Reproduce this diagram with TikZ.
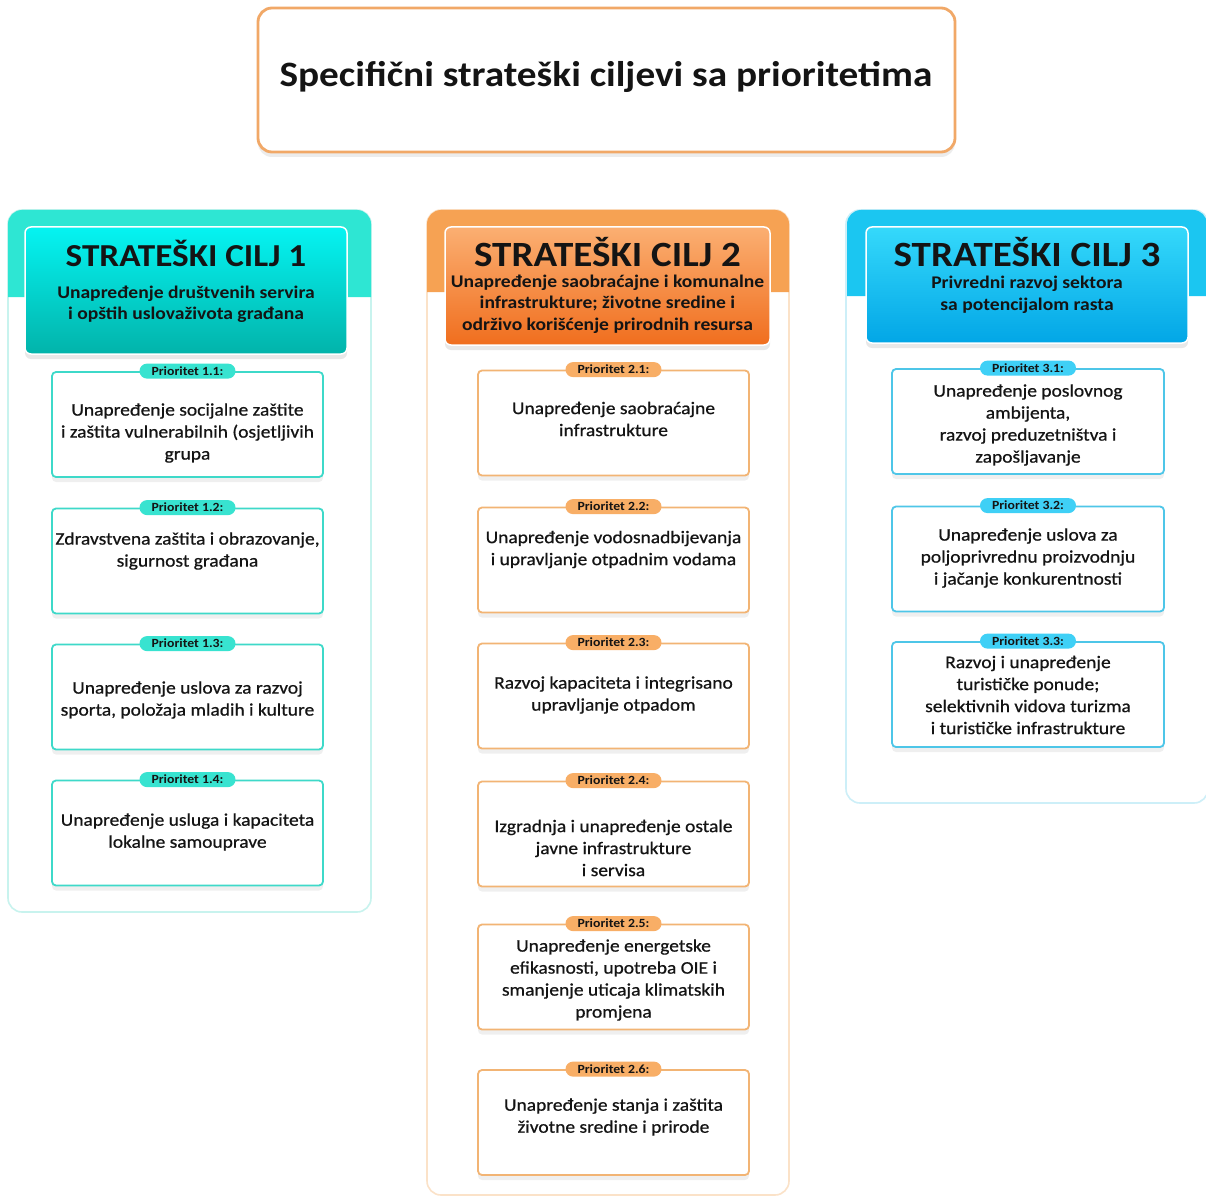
\documentclass[tikz,border=0pt]{standalone}
\usepackage{fontspec}
\setmainfont{Carlito}[FakeStretch=1.1]
\newfontfamily\bodyfont{Carlito}[FakeStretch=1.1, FakeBold=0.7]
\usetikzlibrary{shadows}
\definecolor{tealband}{HTML}{2EE6D3}
\definecolor{tealtop}{HTML}{05F4F2}
\definecolor{tealbot}{HTML}{02B3AA}
\definecolor{tealline}{HTML}{3ED9C9}
\definecolor{tealpill}{HTML}{38E3D0}
\definecolor{tealpanel}{HTML}{C8F3EE}
\definecolor{orband}{HTML}{F6A253}
\definecolor{ortop}{HTML}{FBAF72}
\definecolor{orbot}{HTML}{F06E1E}
\definecolor{orline}{HTML}{F2B474}
\definecolor{orpill}{HTML}{F8AE66}
\definecolor{orpanel}{HTML}{FBE2C8}
\definecolor{blband}{HTML}{1BC6F1}
\definecolor{bltop}{HTML}{35D9FB}
\definecolor{blbot}{HTML}{02A6E6}
\definecolor{blline}{HTML}{4EC6E8}
\definecolor{blpill}{HTML}{3FD0F6}
\definecolor{blpanel}{HTML}{CDEFF8}
\definecolor{titleline}{HTML}{F1A867}
\definecolor{ink}{HTML}{141414}
\tikzset{
  panelbox/.style={draw=#1, line width=1.6pt, fill=white, rounded corners=14pt, inner sep=0pt},
  headbox/.style args={#1/#2}{top color=#1, bottom color=#2, draw=white, line width=1.5pt, rounded corners=6pt, inner sep=0pt,
     drop shadow={shadow xshift=0pt, shadow yshift=-5pt, opacity=0.18, fill=gray}},
  prbox/.style={draw=#1, line width=1.8pt, fill=white, rounded corners=4pt, minimum width=271pt, minimum height=105pt, inner sep=0pt,
     drop shadow={shadow xshift=0pt, shadow yshift=-5pt, opacity=0.12, fill=gray}},
  pill/.style={fill=#1, rounded corners=7.5pt, minimum width=96pt, minimum height=15pt, inner sep=0pt, font=\bfseries\fontsize{12.5}{13}\selectfont, text=ink},
  prtext/.style={align=center, font=\bodyfont\fontsize{17.7}{22}\selectfont, text=ink, inner sep=0pt},
  headtitle/.style={font=\bfseries\fontsize{35.5}{36}\selectfont, text=ink, inner sep=0pt},
  headsub/.style={align=center, font=\bfseries\fontsize{17.8}{21.5}\selectfont, text=ink, inner sep=0pt},
}
\begin{document}
\begin{tikzpicture}[x=1pt, y=-1pt]
\useasboundingbox[fill=white] (0,0) rectangle (1206,1198);

% title
\node[draw=titleline, line width=2.8pt, fill=white, rounded corners=14pt, minimum width=697pt, minimum height=144pt,
  drop shadow={shadow xshift=0pt, shadow yshift=-5pt, opacity=0.15, fill=gray}] (title) at (606.5,80) {};
\node[font=\bfseries\fontsize{35.7}{36}\selectfont, text=ink, inner sep=0pt] (titletext) at (606,77) {Specifični strateški ciljevi sa prioritetima};

% ---------- panels ----------
\node[panelbox=tealpanel, minimum width=363pt, minimum height=702pt] (p1) at (189.5,561) {};
\fill[tealband] (8,297) {[rounded corners=14pt] -- (8,210) -- (371,210)} -- (371,297) -- cycle;
\node[panelbox=orpanel, minimum width=362pt, minimum height=985pt] (p2) at (608,702.5) {};
\fill[orband] (427,292) {[rounded corners=14pt] -- (427,210) -- (789,210)} -- (789,292) -- cycle;
\node[panelbox=blpanel, minimum width=362pt, minimum height=593pt] (p3) at (1027,506.5) {};
\fill[blband] (847,296) {[rounded corners=14pt] -- (847,210) -- (1207,210)} -- (1207,296) -- cycle;

% ---------- headers ----------
\node[headbox=tealtop/tealbot, minimum width=322pt, minimum height=127pt] (h1) at (186,290.5) {};
\node[headtitle, font=\bfseries\fontsize{32}{32}\selectfont] (h1t) at (186,253) {STRATEŠKI CILJ 1};
\node[headsub] (h1s) at (186,304.5) {Unapređenje društvenih servira\\i opštih uslovaživota građana};

\node[headbox=ortop/orbot, minimum width=325pt, minimum height=118pt] (h2) at (607.5,286) {};
\node[headtitle] (h2t) at (607.5,252) {STRATEŠKI CILJ 2};
\node[headsub] (h2s) at (607.5,304) {Unapređenje saobraćajne i komunalne\\infrastrukture; životne sredine i\\održivo korišćenje prirodnih resursa};

\node[headbox=bltop/blbot, minimum width=322pt, minimum height=116pt] (h3) at (1027,285) {};
\node[headtitle] (h3t) at (1027,252) {STRATEŠKI CILJ 3};
\node[headsub] (h3s) at (1027,295) {Privredni razvoj sektora\\sa potencijalom rasta};

% ---------- column 1 ----------
\node[prbox=tealline] (b11) at (187.5,424.5) {};
\node[pill=tealpill] (l11) at (b11.north) {Prioritet 1.1:};
\node[prtext] (t11) at (187.5,433) {Unapređenje socijalne zaštite\\i zaštita vulnerabilnih (osjetljivih\\grupa};

\node[prbox=tealline] (b12) at (187.5,561) {};
\node[pill=tealpill] (l12) at (b12.north) {Prioritet 1.2:};
\node[prtext] (t12) at (187.5,551) {Zdravstvena zaštita i obrazovanje,\\sigurnost građana};

\node[prbox=tealline] (b13) at (187.5,697) {};
\node[pill=tealpill] (l13) at (b13.north) {Prioritet 1.3:};
\node[prtext] (t13) at (187.5,700) {Unapređenje uslova za razvoj\\sporta, položaja mladih i kulture};

\node[prbox=tealline] (b14) at (187.5,833) {};
\node[pill=tealpill] (l14) at (b14.north) {Prioritet 1.4:};
\node[prtext] (t14) at (187.5,832) {Unapređenje usluga i kapaciteta\\lokalne samouprave};

% ---------- column 2 ----------
\node[prbox=orline] (b21) at (613.5,423) {};
\node[pill=orpill] (l21) at (b21.north) {Prioritet 2.1:};
\node[prtext] (t21) at (613.5,419) {Unapređenje saobraćajne\\infrastrukture};

\node[prbox=orline] (b22) at (613.5,560) {};
\node[pill=orpill] (l22) at (b22.north) {Prioritet 2.2:};
\node[prtext] (t22) at (613.5,549.5) {Unapređenje vodosnadbijevanja\\i upravljanje otpadnim vodama};

\node[prbox=orline] (b23) at (613.5,696) {};
\node[pill=orpill] (l23) at (b23.north) {Prioritet 2.3:};
\node[prtext] (t23) at (613.5,695) {Razvoj kapaciteta i integrisano\\upravljanje otpadom};

\node[prbox=orline] (b24) at (613.5,834) {};
\node[pill=orpill] (l24) at (b24.north) {Prioritet 2.4:};
\node[prtext] (t24) at (613.5,848) {Izgradnja i unapređenje ostale\\javne infrastrukture\\i servisa};

\node[prbox=orline] (b25) at (613.5,977) {};
\node[pill=orpill] (l25) at (b25.north) {Prioritet 2.5:};
\node[prtext] (t25) at (613.5,980) {Unapređenje energetske\\efikasnosti, upotreba OIE i\\smanjenje uticaja klimatskih\\promjena};

\node[prbox=orline] (b26) at (613.5,1122.5) {};
\node[pill=orpill] (l26) at (b26.north) {Prioritet 2.6:};
\node[prtext] (t26) at (613.5,1117) {Unapređenje stanja i zaštita\\životne sredine i prirode};

% ---------- column 3 ----------
\node[prbox=blline, minimum width=272pt] (b31) at (1028,421.5) {};
\node[pill=blpill] (l31) at (b31.north) {Prioritet 3.1:};
\node[prtext] (t31) at (1028,425) {Unapređenje poslovnog\\ambijenta,\\razvoj preduzetništva i\\zapošljavanje};

\node[prbox=blline, minimum width=272pt] (b32) at (1028,559) {};
\node[pill=blpill] (l32) at (b32.north) {Prioritet 3.2:};
\node[prtext] (t32) at (1028,558) {Unapređenje uslova za\\poljoprivrednu proizvodnju\\i jačanje konkurentnosti};

\node[prbox=blline, minimum width=272pt] (b33) at (1028,694.5) {};
\node[pill=blpill] (l33) at (b33.north) {Prioritet 3.3:};
\node[prtext] (t33) at (1028,695) {Razvoj i unapređenje\\turističke ponude;\\selektivnih vidova turizma\\i turističke infrastrukture};
\end{tikzpicture}
\end{document}
